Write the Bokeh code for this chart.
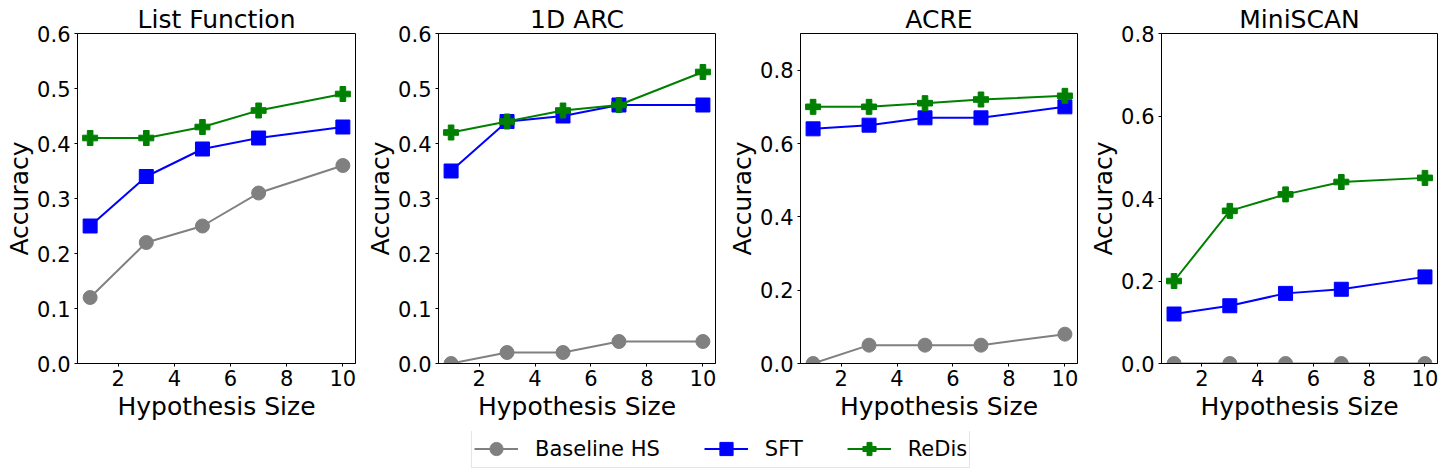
from bokeh.plotting import figure
from bokeh.layouts import row, column
from bokeh.models import Range1d, FixedTicker, PrintfTickFormatter, Legend, LegendItem
from bokeh.embed import file_html
from bokeh.resources import INLINE

hyp_sizes = [1, 3, 5, 7, 10]
series_names = ["Baseline HS", "SFT", "ReDis"]

titles = ["List Function", "1D ARC", "ACRE", "MiniSCAN"]

list_function_baseline = [0.12, 0.22, 0.25, 0.31, 0.36]
list_function_sft = [0.25, 0.34, 0.39, 0.41, 0.43]
list_function_redis = [0.41, 0.41, 0.43, 0.46, 0.49]

arc1d_baseline = [0.00, 0.02, 0.02, 0.04, 0.04]
arc1d_sft = [0.35, 0.44, 0.45, 0.47, 0.47]
arc1d_redis = [0.42, 0.44, 0.46, 0.47, 0.53]

acre_baseline = [0.00, 0.05, 0.05, 0.05, 0.08]
acre_sft = [0.64, 0.65, 0.67, 0.67, 0.70]
acre_redis = [0.70, 0.70, 0.71, 0.72, 0.73]

miniscan_baseline = [0.00, 0.00, 0.00, 0.00, 0.00]
miniscan_sft = [0.12, 0.14, 0.17, 0.18, 0.21]
miniscan_redis = [0.20, 0.37, 0.41, 0.44, 0.45]

x_ticks = [2, 4, 6, 8, 10]
y_ticks_a = [0.0, 0.1, 0.2, 0.3, 0.4, 0.5, 0.6]
y_ticks_b = [0.0, 0.2, 0.4, 0.6, 0.8]

panels = [
    (titles[0], [list_function_baseline, list_function_sft, list_function_redis], 0.6, y_ticks_a),
    (titles[1], [arc1d_baseline, arc1d_sft, arc1d_redis], 0.6, y_ticks_a),
    (titles[2], [acre_baseline, acre_sft, acre_redis], 0.9, y_ticks_b),
    (titles[3], [miniscan_baseline, miniscan_sft, miniscan_redis], 0.8, y_ticks_b),
]

colors = ["#808080", "#0000ff", "#008000"]
markers = ["circle", "square", "plus"]
msizes = [14, 14, 15]

FONT = "DejaVu Sans"

# layout: (width, border_left, border_right)
geom = [(360, 77, 5), (362, 78, 7), (361, 78, 6), (363, 78, 9)]
TOP, FRAME_H, BOTTOM = 33, 330, 80

figs = []
for (title, ys, ymax, yt), (w, bl, br) in zip(panels, geom):
    p = figure(width=w, height=TOP + FRAME_H + BOTTOM, output_backend="svg", toolbar_location=None,
               x_range=Range1d(0.55, 10.45), y_range=Range1d(0, ymax),
               min_border_left=bl, min_border_right=br, min_border_top=TOP, min_border_bottom=BOTTOM,
               title=title)
    p.title.text_font = FONT
    p.title.text_font_size = "25px"
    p.title.text_font_style = "normal"
    p.title.text_color = "black"
    p.title.align = "center"
    p.title.standoff = 0
    p.title.offset = 0
    p.grid.visible = False
    p.outline_line_color = "black"
    p.outline_line_alpha = 1
    p.background_fill_color = "white"
    for ax in (p.xaxis[0], p.yaxis[0]):
        ax.axis_line_color = "black"
        ax.major_tick_line_color = "black"
        ax.minor_tick_line_color = None
        ax.major_tick_out = 3
        ax.major_tick_in = 0
        ax.major_label_text_font = FONT
        ax.major_label_text_font_size = "21px"
        ax.major_label_text_color = "black"
        ax.axis_label_text_font = FONT
        ax.axis_label_text_font_size = "25px"
        ax.axis_label_text_font_style = "normal"
        ax.axis_label_text_color = "black"
    p.xaxis.ticker = FixedTicker(ticks=x_ticks)
    p.yaxis.ticker = FixedTicker(ticks=yt)
    p.yaxis.formatter = PrintfTickFormatter(format="%.1f")
    p.xaxis.axis_label = "Hypothesis Size"
    p.yaxis.axis_label = "Accuracy"
    p.xaxis.major_label_standoff = 3
    p.yaxis.major_label_standoff = 4
    p.xaxis.axis_label_standoff = 3
    p.yaxis.axis_label_standoff = 0
    for vals, c, m, s in zip(ys, colors, markers, msizes):
        p.line(hyp_sizes, vals, line_color=c, line_width=2)
        p.scatter(hyp_sizes, vals, marker=m, size=s, color=c)
    figs.append(p)

# legend figure
lf = figure(width=1446, height=37, output_backend="svg", toolbar_location=None,
            x_range=Range1d(100, 101), y_range=Range1d(100, 101),
            min_border_left=0, min_border_right=0, min_border_top=0, min_border_bottom=0,
            margin=(-12, 0, 0, 0))
lf.axis.visible = False
lf.grid.visible = False
lf.outline_line_color = None
lf.background_fill_alpha = 0
lf.border_fill_alpha = 0
items = []
for name, vals, c, m, s in zip(series_names, panels[0][1], colors, markers, msizes):
    r1 = lf.line(hyp_sizes, vals, line_color=c, line_width=2)
    r2 = lf.scatter(hyp_sizes, vals, marker=m, size=s, color=c)
    items.append(LegendItem(label=name, renderers=[r1, r2]))
leg = Legend(items=items, orientation="horizontal", location=(471, 0),
             label_text_font=FONT, label_text_font_size="21px", label_text_color="black",
             glyph_width=44, glyph_height=33, label_standoff=17, spacing=44,
             padding=2, margin=0, border_line_color="#cccccc", border_line_width=1,
             background_fill_color="white", background_fill_alpha=1)
lf.add_layout(leg, "center")

layout = column(row(*figs), lf)
open("out.html", "w").write(file_html(layout, INLINE))
